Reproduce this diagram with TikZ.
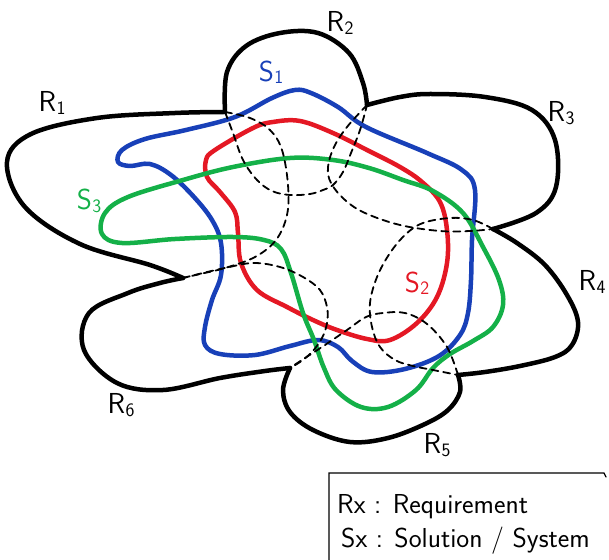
\documentclass[tikz,border=0pt]{standalone}
\usepackage{fontspec}
\definecolor{blueS}{RGB}{24,64,184}
\definecolor{redS}{RGB}{228,24,36}
\definecolor{greenS}{RGB}{20,176,72}
\newcommand{\lab}[2]{#1\kern0.5bp\raisebox{-2.5bp}{\fontsize{19}{19}\selectfont #2}}
\begin{document}
\begin{tikzpicture}[x=1bp,y=-1bp,
  outline/.style={line width=4.5bp, line cap=round, line join=round},
  sol/.style={line width=4.5bp, line cap=round, line join=round},
  hidden/.style={line width=1.8bp, dash pattern=on 7bp off 5bp, line cap=round},
  lbl/.style={font=\sffamily\fontsize{29}{29}\selectfont, inner sep=0pt},
  legendtext/.style={font=\sffamily\fontsize{27.5}{27.5}\selectfont, anchor=west, inner sep=0pt}]
\useasboundingbox (0,0) rectangle (609,560);

% junctions
\coordinate (J12) at (225,112);
\coordinate (J23) at (367,105);
\coordinate (J34) at (493,229);
\coordinate (J45) at (458,375);
\coordinate (J56) at (290,368);
\coordinate (J61) at (183,278);

% solutions
\draw[sol, blueS] plot[smooth cycle, tension=0.6] coordinates {
 (295,90) (311,93) (338,107) (366,127) (427,153) (462,170) (475,190) (472,240) (471,280)
 (468,313) (460,335) (439,356) (405,369) (372,372) (352,361) (338,347) (318,340) (290,346)
 (255,355) (220,354) (205,345) (205,327) (212,300) (221,275) (221,243) (212,220) (194,197)
 (171,175) (150,164) (130,166) (118,162) (122,150) (145,139) (186,130) (235,117) (272,98)};
\draw[sol, redS] plot[smooth cycle, tension=0.6] coordinates {
 (273,122) (300,121) (333,133) (367,150) (400,167) (422,182) (440,202) (447,230) (447,263)
 (437,297) (417,323) (390,340) (367,339) (337,330) (313,320) (287,307) (257,290) (241,263)
 (238,233) (235,212) (220,192) (207,177) (206,160) (215,150) (253,128)};
\draw[sol, greenS] plot[smooth cycle, tension=0.6] coordinates {
 (290,158) (333,160) (369,168) (403,180) (433,191) (463,213) (483,247) (499,280) (503,305)
 (493,327) (473,341) (450,354) (433,368) (416,390) (388,407) (361,407) (336,390) (324,368)
 (314,340) (303,313) (291,273) (281,249) (264,240) (233,237) (175,239) (122,243) (102,234)
 (105,213) (128,197) (183,180) (233,167)};

% hidden continuations
\draw[hidden] plot[smooth, tension=0.6] coordinates {(J12) (250,118) (270,130) (282,150) (288,185) (287,215) (276,240) (255,257) (225,268) (200,274) (J61)};
\draw[hidden] plot[smooth, tension=0.6] coordinates {(J12) (233,133) (243,160) (257,180) (272,191) (290,195) (310,194) (323,190) (333,185) (343,172) (351,153) (360,130) (J23)};
\draw[hidden] plot[smooth, tension=0.6] coordinates {(J23) (347,127) (334,147) (328,167) (331,183) (345,200) (365,213) (400,225) (440,231) (470,231) (J34)};
\draw[hidden] plot[smooth, tension=0.6] coordinates {(J34) (473,220) (450,218) (423,223) (406,234) (390,253) (377,277) (370,303) (372,327) (380,347) (395,360) (413,366) (433,370) (J45)};
\draw[hidden] plot[smooth, tension=0.6] coordinates {(J45) (447,347) (427,324) (405,313) (383,313) (366,317) (347,330) (325,345) (305,358) (J56)};
\draw[hidden] plot[smooth, tension=0.6] coordinates {(J61) (203,273) (225,268) (253,263) (280,267) (303,277) (320,290) (327,307) (327,323) (322,338) (312,352) (300,362) (J56)};

% requirement outline
\draw[outline] plot[smooth, tension=0.6] coordinates {(J61) (150,265) (80,244) (25,207) (7,162) (31,134) (97,118) (175,113) (J12)};
\draw[outline] plot[smooth, tension=0.6] coordinates {(J12) (227,72) (246,46) (280,33) (318,33) (349,53) (363,83) (J23)};
\draw[outline] plot[smooth, tension=0.6] coordinates {(J23) (400,97) (430,94) (485,97) (532,110) (555,140) (556,187) (536,213) (J34)};
\draw[outline] plot[smooth, tension=0.6] coordinates {(J34) (517,243) (545,265) (567,295) (578,322) (572,345) (555,357) (520,366) (485,372) (J45)};
\draw[outline] plot[smooth, tension=0.6] coordinates {(J45) (460,392) (448,410) (425,424) (388,438) (350,442) (313,430) (290,412) (283,390) (J56)};
\draw[outline] plot[smooth, tension=0.6] coordinates {(J56) (265,371) (220,378) (163,390) (117,383) (84,350) (89,313) (128,293) (160,283) (J61)};

% labels
\node[lbl] (r1) at (52,103) {\lab{R}{1}};
\node[lbl] (r2) at (340,23) {\lab{R}{2}};
\node[lbl] (r3) at (561,113) {\lab{R}{3}};
\node[lbl] (r4) at (592,282) {\lab{R}{4}};
\node[lbl] (r5) at (437,445) {\lab{R}{5}};
\node[lbl] (r6) at (121,405) {\lab{R}{6}};
\node[lbl, blueS] (s1) at (271,72) {\lab{S}{1}};
\node[lbl, redS] (s2) at (417,283) {\lab{S}{2}};
\node[lbl, greenS] (s3) at (89,201) {\lab{S}{3}};

% legend
\draw[line width=1.3bp, line cap=round] (329,562) -- (329,473) -- (604,473) -- (606,477);
\node[legendtext] (leg1) at (337,507) {Rx : Requirement};
\node[legendtext] (leg2) at (341,541) {Sx : Solution / System};
\end{tikzpicture}
\end{document}
